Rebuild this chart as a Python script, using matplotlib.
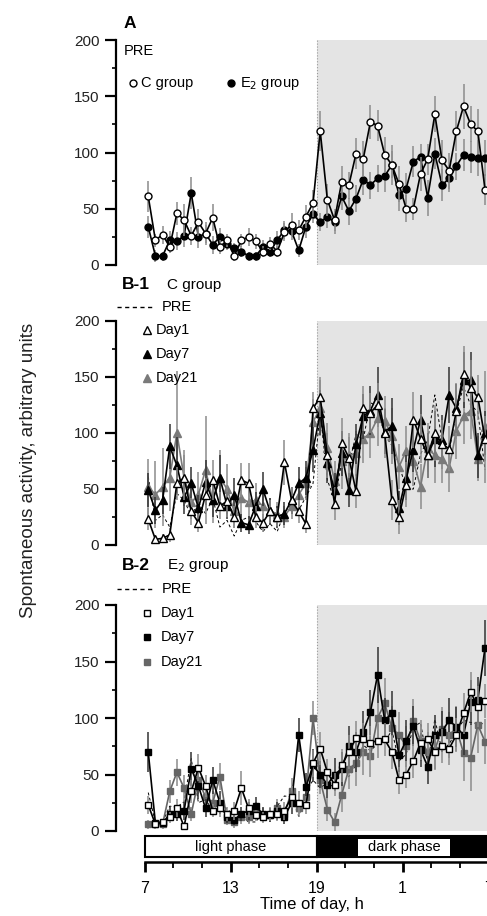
import numpy as np
import matplotlib
matplotlib.use('Agg')
import matplotlib.pyplot as plt
from matplotlib.lines import Line2D
from matplotlib.patches import Rectangle

matplotlib.rcParams['font.family'] = ['Liberation Sans', 'DejaVu Sans']
matplotlib.rcParams['font.size'] = 11

# ---------------- data (30-min bins, 07:15 ... 06:45 next day) ----------------
hours = np.arange(7.25, 31.0, 0.5)

# A: baseline (PRE)
c_pre = [61, 22, 27, 16, 46, 40, 26, 38, 28, 42, 16, 22, 8, 22, 25, 21, 12, 19, 12, 29, 36, 31, 43, 55,
         119, 58, 40, 74, 71, 99, 94, 127, 124, 98, 89, 72, 50, 50, 81, 94, 134, 93, 84, 119, 141, 125, 119, 67]
c_pre_err = [14, 6, 8, 5, 10, 14, 8, 12, 10, 12, 6, 6, 4, 6, 8, 7, 5, 6, 5, 8, 10, 9, 10, 12,
             18, 14, 10, 14, 12, 14, 16, 15, 14, 16, 18, 16, 12, 10, 15, 14, 16, 18, 16, 18, 20, 16, 20, 14]
e_pre = [34, 8, 8, 22, 21, 26, 64, 25, 28, 18, 25, 19, 15, 12, 8, 8, 16, 12, 22, 31, 30, 13, 34, 45,
         38, 43, 38, 61, 48, 59, 76, 71, 77, 79, 89, 62, 68, 92, 96, 60, 99, 71, 77, 88, 98, 96, 95, 95]
e_pre_err = [10, 5, 4, 8, 8, 10, 14, 10, 8, 8, 8, 6, 5, 5, 4, 4, 6, 5, 8, 8, 8, 6, 10, 8,
             8, 10, 10, 12, 12, 12, 14, 12, 12, 14, 12, 14, 14, 14, 12, 16, 14, 14, 12, 12, 14, 14, 16, 16]

# B-1: C group after treatment
c_d1 = [23, 5, 6, 9, 55, 60, 30, 20, 45, 58, 35, 39, 25, 58, 55, 25, 20, 30, 25, 74, 40, 30, 19, 122,
        132, 80, 37, 91, 78, 48, 122, 118, 125, 100, 40, 25, 54, 112, 95, 80, 100, 90, 86, 120, 153, 140, 132, 95]
c_d1_err = [10, 4, 4, 6, 15, 20, 12, 8, 15, 18, 12, 14, 10, 15, 18, 10, 8, 10, 8, 20, 12, 10, 8, 15,
            18, 20, 15, 22, 18, 15, 20, 18, 20, 22, 18, 15, 20, 25, 22, 20, 25, 22, 20, 25, 25, 25, 20, 20]
c_d7 = [49, 31, 40, 88, 71, 43, 55, 33, 56, 40, 60, 35, 45, 20, 18, 35, 50, 30, 25, 28, 40, 55, 60, 85,
        118, 73, 49, 82, 49, 90, 115, 120, 134, 101, 106, 33, 60, 85, 112, 80, 95, 94, 134, 122, 147, 147, 80, 100]
c_d7_err = [15, 12, 12, 20, 25, 15, 15, 12, 20, 15, 20, 12, 15, 8, 8, 12, 15, 12, 10, 10, 12, 15, 15, 20,
            20, 18, 15, 20, 15, 18, 20, 22, 25, 20, 25, 15, 20, 20, 22, 20, 25, 22, 25, 22, 25, 25, 20, 20]
c_d21 = [52, 45, 52, 60, 100, 60, 38, 45, 67, 40, 60, 50, 30, 42, 38, 40, 35, 30, 28, 25, 35, 45, 55, 110,
         122, 87, 57, 75, 80, 82, 95, 100, 113, 111, 97, 70, 84, 75, 52, 87, 80, 77, 69, 102, 115, 120, 77, 105]
c_d21_err = [25, 30, 35, 30, 55, 25, 15, 20, 48, 20, 25, 22, 15, 18, 15, 15, 12, 12, 10, 10, 12, 15, 15, 20,
             25, 22, 18, 25, 20, 20, 22, 22, 25, 22, 25, 20, 22, 22, 20, 22, 25, 22, 22, 25, 25, 25, 20, 50]

# B-2: E2 group after treatment
e_d1 = [23, 6, 8, 12, 20, 4, 35, 56, 40, 18, 20, 15, 18, 38, 20, 14, 12, 15, 15, 18, 30, 25, 23, 60,
        73, 52, 41, 58, 70, 82, 81, 78, 80, 81, 70, 45, 50, 62, 78, 81, 70, 75, 73, 85, 104, 123, 110, 115]
e_d1_err = [8, 3, 3, 5, 8, 3, 10, 12, 10, 6, 8, 6, 8, 15, 8, 5, 5, 6, 6, 8, 10, 10, 8, 12,
            15, 12, 10, 15, 15, 15, 15, 15, 15, 15, 15, 12, 12, 15, 15, 15, 15, 15, 15, 15, 18, 18, 18, 15]
e_d7 = [70, 7, 7, 15, 15, 18, 55, 40, 20, 45, 25, 12, 10, 15, 18, 22, 15, 14, 18, 12, 25, 85, 39, 58,
        50, 41, 50, 55, 75, 70, 88, 105, 138, 98, 104, 67, 80, 93, 72, 57, 85, 88, 98, 92, 85, 114, 116, 162]
e_d7_err = [18, 3, 3, 6, 6, 8, 15, 12, 8, 12, 10, 5, 5, 6, 8, 8, 6, 6, 8, 6, 10, 15, 12, 15,
            12, 12, 15, 15, 18, 18, 18, 20, 25, 20, 20, 15, 18, 18, 15, 15, 18, 18, 20, 18, 18, 20, 20, 25]
e_d21 = [6, 6, 6, 35, 52, 38, 15, 45, 30, 25, 48, 10, 8, 12, 12, 18, 14, 14, 20, 15, 35, 20, 30, 100,
         45, 19, 8, 32, 55, 60, 70, 66, 100, 113, 91, 85, 75, 97, 80, 70, 72, 90, 85, 91, 69, 65, 94, 79]
e_d21_err = [4, 4, 4, 10, 12, 12, 6, 12, 10, 10, 12, 5, 5, 6, 6, 8, 6, 6, 8, 6, 12, 8, 10, 15,
             12, 10, 8, 15, 18, 20, 20, 18, 20, 22, 20, 20, 18, 20, 18, 18, 18, 20, 20, 20, 25, 30, 25, 20]

tick_pos = [7, 13, 19, 25, 31]
tick_lab = ['7', '13', '19', '1', '7']

# ---------------- layout (pixel based) ----------------
W, H = 487, 916
fig = plt.figure(figsize=(W / 100, H / 100), dpi=100)


def rect(x0, ytop, x1, ybot):
    return [x0 / W, 1 - ybot / H, (x1 - x0) / W, (ybot - ytop) / H]


def fx(x):
    return x / W


def fy(y):
    return 1 - y / H


XL = (5, 31.5)
X_RIGHT = 116 + (XL[1] - XL[0]) * 14.33
GRAY_BG = '#e4e4e4'
ERR_GRAY = '#8c8c8c'
MID_GRAY = '#7a7a7a'


def setup_panel(ax):
    ax.set_xlim(*XL)
    ax.set_ylim(0, 200)
    ax.axvspan(19, XL[1], color=GRAY_BG, zorder=0, lw=0)
    ax.axvline(19, color='#9a9a9a', ls=':', lw=0.8, zorder=0.5)
    for s in ['top', 'right', 'bottom']:
        ax.spines[s].set_visible(False)
    ax.spines['left'].set_linewidth(1.6)
    ax.set_xticks([])
    ax.set_yticks([0, 50, 100, 150, 200])
    ax.set_yticks(np.arange(25, 200, 50), minor=True)
    ax.tick_params(axis='y', which='major', length=8, width=1.6, labelsize=11, pad=4, labelcolor='#222222')
    ax.tick_params(axis='y', which='minor', length=3, width=1.2)
    ax.patch.set_alpha(0)


def series(ax, y, err, marker, mfc, mec, lc, ecol, ms, z):
    ax.errorbar(hours, y, yerr=err, fmt='none', ecolor=ecol, elinewidth=1.1, capsize=0,
                zorder=z - 0.5, clip_on=False)
    ax.plot(hours, y, color=lc, lw=1.2, marker=marker, ms=ms, mfc=mfc, mec=mec, mew=1.0,
            zorder=z, clip_on=False)


# ====================
# Panel A
# ====================
axA = fig.add_axes(rect(116, 40, X_RIGHT, 265))
setup_panel(axA)
series(axA, e_pre, e_pre_err, 'o', 'black', 'black', 'black', ERR_GRAY, 5, 3)
series(axA, c_pre, c_pre_err, 'o', 'white', 'black', 'black', ERR_GRAY, 5, 4)

fig.text(fx(124), fy(24), 'A', fontsize=12.5, fontweight='bold', va='center', ha='left')
fig.text(fx(124), fy(51), 'PRE', fontsize=10.5, va='center', ha='left')
fig.add_artist(Line2D([fx(133)], [fy(83)], marker='o', ms=5, mfc='white', mec='black', mew=1.0,
                      transform=fig.transFigure))
fig.text(fx(141), fy(83), 'C group', fontsize=10.5, va='center', ha='left')
fig.add_artist(Line2D([fx(231)], [fy(83)], marker='o', ms=5, mfc='black', mec='black',
                      transform=fig.transFigure))
fig.text(fx(240), fy(83), 'E$_2$ group', fontsize=10.5, va='center', ha='left')

# ====================
# Panel B-1 (C group)
# ====================
axB1 = fig.add_axes(rect(116, 321, X_RIGHT, 545))
setup_panel(axB1)
axB1.plot(hours, c_pre, color='black', lw=0.7, ls=(0, (3, 2.5)), zorder=2)
series(axB1, c_d21, c_d21_err, '^', MID_GRAY, MID_GRAY, MID_GRAY, ERR_GRAY, 6, 3)
series(axB1, c_d7, c_d7_err, '^', 'black', 'black', 'black', '#333333', 6, 4)
series(axB1, c_d1, c_d1_err, '^', 'white', 'black', 'black', ERR_GRAY, 6, 5)

# ====================
# Panel B-2 (E2 group)
# ====================
axB2 = fig.add_axes(rect(116, 605, X_RIGHT, 831))
setup_panel(axB2)
axB2.plot(hours, e_pre, color='black', lw=0.7, ls=(0, (3, 2.5)), zorder=2)
series(axB2, e_d21, e_d21_err, 's', '#666666', '#666666', '#666666', ERR_GRAY, 5, 3)
series(axB2, e_d7, e_d7_err, 's', 'black', 'black', 'black', '#333333', 5, 4)
series(axB2, e_d1, e_d1_err, 's', 'white', 'black', 'black', ERR_GRAY, 5, 5)

# legends of the B panels (drawn by hand)
b_legends = [
    (285, 'B-1', 'C group', 307, [(330, '^', 'white', 'Day1'), (354, '^', 'black', 'Day7'),
                                   (378, '^', MID_GRAY, 'Day21')], 156),
    (566, 'B-2', 'E$_2$ group', 589, [(613, 's', 'white', 'Day1'), (637, 's', 'black', 'Day7'),
                                       (662, 's', '#666666', 'Day21')], 161),
]
for ytitle, tag, grp, ypre, entries, xtxt in b_legends:
    fig.text(fx(122), fy(ytitle), tag, fontsize=12.5, fontweight='bold', va='center', ha='left')
    fig.text(fx(122 + 45), fy(ytitle), grp, fontsize=11, va='center', ha='left')
    fig.add_artist(Line2D([fx(117), fx(153)], [fy(ypre), fy(ypre)], color='black', lw=1.0,
                          ls=(0, (3, 2.5)), transform=fig.transFigure))
    fig.text(fx(162), fy(ypre), 'PRE', fontsize=10.5, va='center', ha='left')
    for yy, mk, fc, lab in entries:
        ec = 'black' if fc in ('white', 'black') else fc
        fig.add_artist(Line2D([fx(147)], [fy(yy)], marker=mk, ms=6 if mk == '^' else 5,
                              mfc=fc, mec=ec, mew=1.0, transform=fig.transFigure))
        fig.text(fx(xtxt), fy(yy), lab, fontsize=10.5, va='center', ha='left')

# ====================
# Light / dark bar and time axis
# ====================
axT = fig.add_axes(rect(116, 836, X_RIGHT, 862))
axT.set_xlim(*XL)
axT.set_ylim(0, 1)
axT.add_patch(Rectangle((7, 0.19), 12, 0.81, fc='white', ec='black', lw=1.5, clip_on=False))
axT.add_patch(Rectangle((19, 0.19), XL[1] - 19, 0.81, fc='black', ec='black', lw=1.5, clip_on=False))
axT.add_patch(Rectangle((21.9, 0.25), 6.4, 0.63, fc='white', ec='none'))
axT.text(13, 0.58, 'light phase', fontsize=10.5, ha='center', va='center')
axT.text(25.1, 0.58, 'dark phase', fontsize=10.5, ha='center', va='center')
for s in ['top', 'right', 'left']:
    axT.spines[s].set_visible(False)
axT.spines['bottom'].set_linewidth(1.8)
axT.spines['bottom'].set_bounds(7, XL[1])
axT.set_yticks([])
axT.set_xticks(tick_pos)
axT.set_xticklabels(tick_lab)
axT.set_xticks([9, 11, 15, 17, 21, 23, 27, 29], minor=True)
axT.tick_params(axis='x', which='major', length=7, width=2.0, labelsize=11.5, pad=7)
axT.tick_params(axis='x', which='minor', length=4, width=1.3)
axT.patch.set_alpha(0)

fig.text(fx(312), fy(905), 'Time of day, h', fontsize=12, ha='center', va='center')
fig.text(fx(29), fy(470), 'Spontaneous activity, arbitrary units', fontsize=13.5,
         rotation=90, ha='center', va='center', color='#222222')

fig.savefig('out.png', dpi=100)
